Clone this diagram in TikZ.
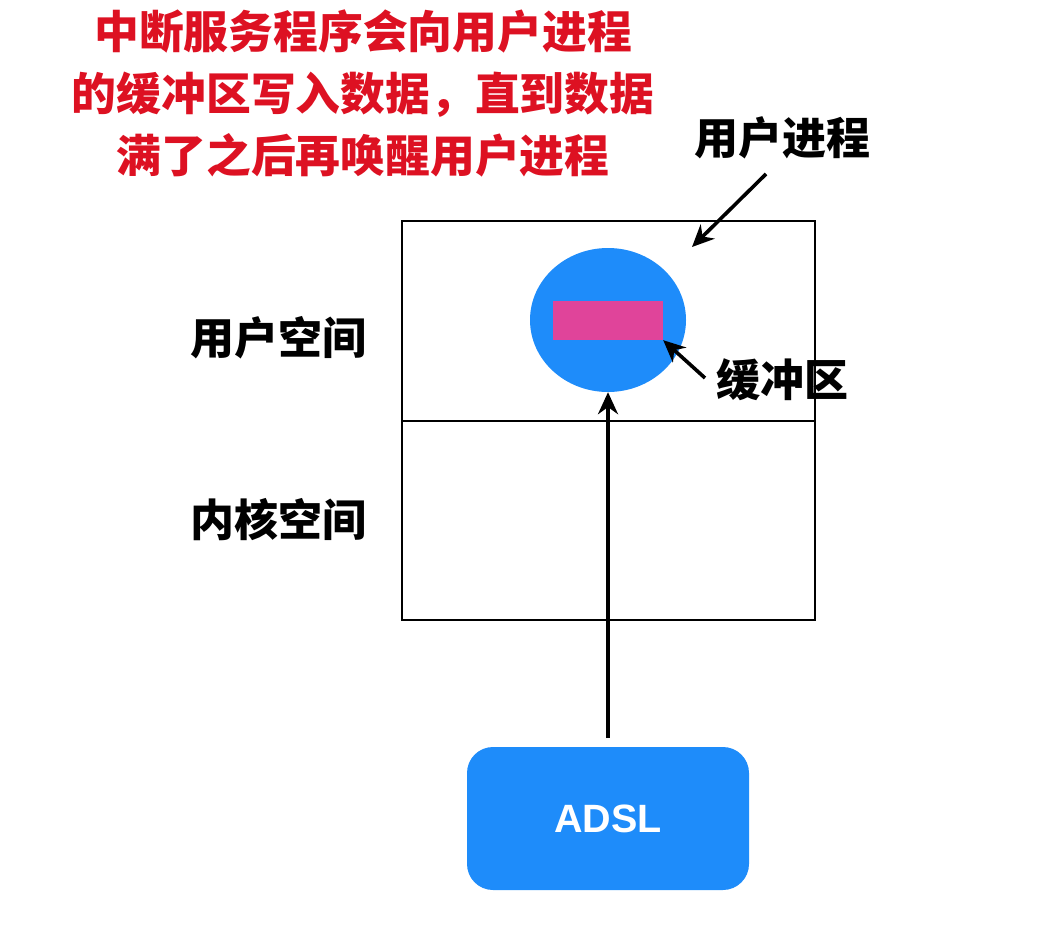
\documentclass[tikz,border=0pt]{standalone}
\usepackage{fontspec}
\usepackage{tikz}
\usetikzlibrary{arrows.meta,shapes.geometric}
\setsansfont{Liberation Sans}
\newfontfamily\cjk{Noto Sans CJK SC}
\definecolor{nodeblue}{HTML}{1E8CFA}
\definecolor{bufpink}{HTML}{E0449A}
\definecolor{notered}{HTML}{DD1122}

\tikzset{
  cjklabel/.style={font=\cjk\bfseries\fontsize{44}{50}\selectfont, inner sep=0pt},
  ptr/.style={line width=3.6pt, -{Stealth[length=22pt,width=20pt]}}
}

\begin{document}
\begin{tikzpicture}[x=1pt,y=-1pt]
    \useasboundingbox (0,0) rectangle (1060,928);

    \node [text=notered, align=center, inner sep=0pt,
      font=\cjk\bfseries\fontsize{44.8}{62}\selectfont] (note) at (363,93)
      {中断服务程序会向用户进程\\的缓冲区写入数据，直到数据\\满了之后再唤醒用户进程};

    \draw [line width=1.8pt] (402,221) rectangle (815,620);
    \draw [line width=1.8pt] (402,421) -- (815,421);

    \node [cjklabel] (userspace) at (278,338) {用户空间};
    \node [cjklabel] (kernelspace) at (278,520) {内核空间};

    \node [ellipse, fill=nodeblue, minimum width=156pt, minimum height=144pt,
      inner sep=0pt] (proc) at (608,320) {};
    \node [fill=bufpink, minimum width=110pt, minimum height=39pt,
      inner sep=0pt] (buf) at (608,320.5) {};

    \node [cjklabel] (proclabel) at (782,138) {用户进程};
    \node [cjklabel] (buflabel) at (782,380) {缓冲区};

    \node [fill=nodeblue, rounded corners=26pt, minimum width=282pt,
      minimum height=143pt, inner sep=0pt, text=white,
      font=\sffamily\bfseries\fontsize{39.5}{44}\selectfont] (adsl) at (608,818.5) {ADSL};

    \coordinate (procin) at (692,247);
    \coordinate (procout) at (766,174);
    \coordinate (bufout) at (705,378);
    \coordinate (adslout) at (608,738);

    \draw [ptr] (procout) -- (procin);
    \draw [ptr] (bufout) -- (buf.south east);
    \draw [ptr] (adslout) -- (proc.south);
  \end{tikzpicture}
\end{document}
